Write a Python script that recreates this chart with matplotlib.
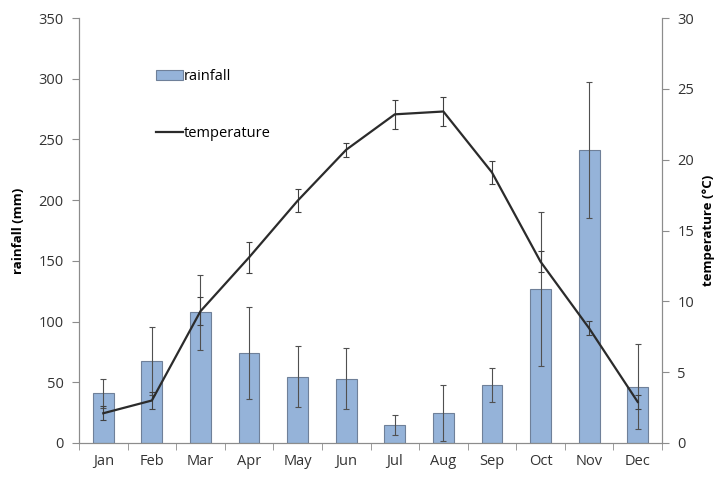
import matplotlib.pyplot as plt
from matplotlib.lines import Line2D
import numpy as np

plt.rcParams['font.family'] = ['Open Sans', 'DejaVu Sans']

# monthly means with error bars
months = ['Jan', 'Feb', 'Mar', 'Apr', 'May', 'Jun', 'Jul', 'Aug', 'Sep', 'Oct', 'Nov', 'Dec']
rainfall = [41, 67.5, 107.5, 74, 54.5, 53, 15, 25, 48, 127, 241, 46.5]
rainfall_err = [12, 28, 31, 38, 25, 25, 8, 23, 14, 63.5, 56, 35]
temperature = [2.1, 3.0, 9.3, 13.1, 17.1, 20.7, 23.2, 23.4, 19.1, 12.8, 8.1, 2.9]
temperature_err = [0.5, 0.6, 1.0, 1.1, 0.8, 0.5, 1.0, 1.0, 0.8, 0.75, 0.5, 0.5]

x = np.arange(len(months))
grey = '#8c8c8c'

fig = plt.figure(figsize=(7.21, 4.79), dpi=100)
ax = fig.add_axes([79/721, 36/479, 583/721, 425/479])
ax2 = ax.twinx()

bars = ax.bar(x, rainfall, width=0.43, color='#95b3d9', edgecolor='#6f8099', linewidth=0.8,
              yerr=rainfall_err, error_kw=dict(ecolor='#505050', elinewidth=0.8, capsize=2, capthick=0.8),
              zorder=2)
ax2.errorbar(x, temperature, yerr=temperature_err, color='#2b2b2b', linewidth=1.6,
             ecolor='#404040', elinewidth=0.8, capsize=2, capthick=0.8, zorder=3)

ax.set_xlim(-0.5, 11.5)
ax.set_ylim(0, 350)
ax2.set_ylim(0, 30)
ax.set_yticks(range(0, 351, 50))
ax2.set_yticks(range(0, 31, 5))
ax.set_xticks(x)
ax.set_xticklabels(months)
ax.set_xticks(np.arange(-0.5, 12, 1), minor=True)
ax.tick_params(axis='x', which='major', length=0, pad=8)
ax.tick_params(axis='x', which='minor', length=5, color=grey, direction='out')
ax.tick_params(axis='y', length=5, color=grey, direction='out', pad=6)
ax2.tick_params(axis='y', length=5, color=grey, direction='out', pad=6)
for a in (ax, ax2):
    a.tick_params(labelsize=10.5, labelcolor='#333333')
    a.spines['top'].set_visible(False)
    for s in ('left', 'right', 'bottom'):
        a.spines[s].set_color(grey)

ax.set_ylabel('rainfall (mm)', fontweight='bold', fontsize=9.5, labelpad=10)
ax2.set_ylabel('temperature (\u00b0C)', fontweight='bold', fontsize=9.5, labelpad=6)

temp_handle = Line2D([], [], color='#2b2b2b', linewidth=1.6)
ax.legend([bars, temp_handle], ['rainfall', 'temperature'], loc='upper left',
          bbox_to_anchor=(0.11, 0.91), frameon=False, fontsize=10.5, labelspacing=2.85,
          handlelength=1.8, handletextpad=0.1, handleheight=0.7)

fig.savefig('out.png', dpi=100)
